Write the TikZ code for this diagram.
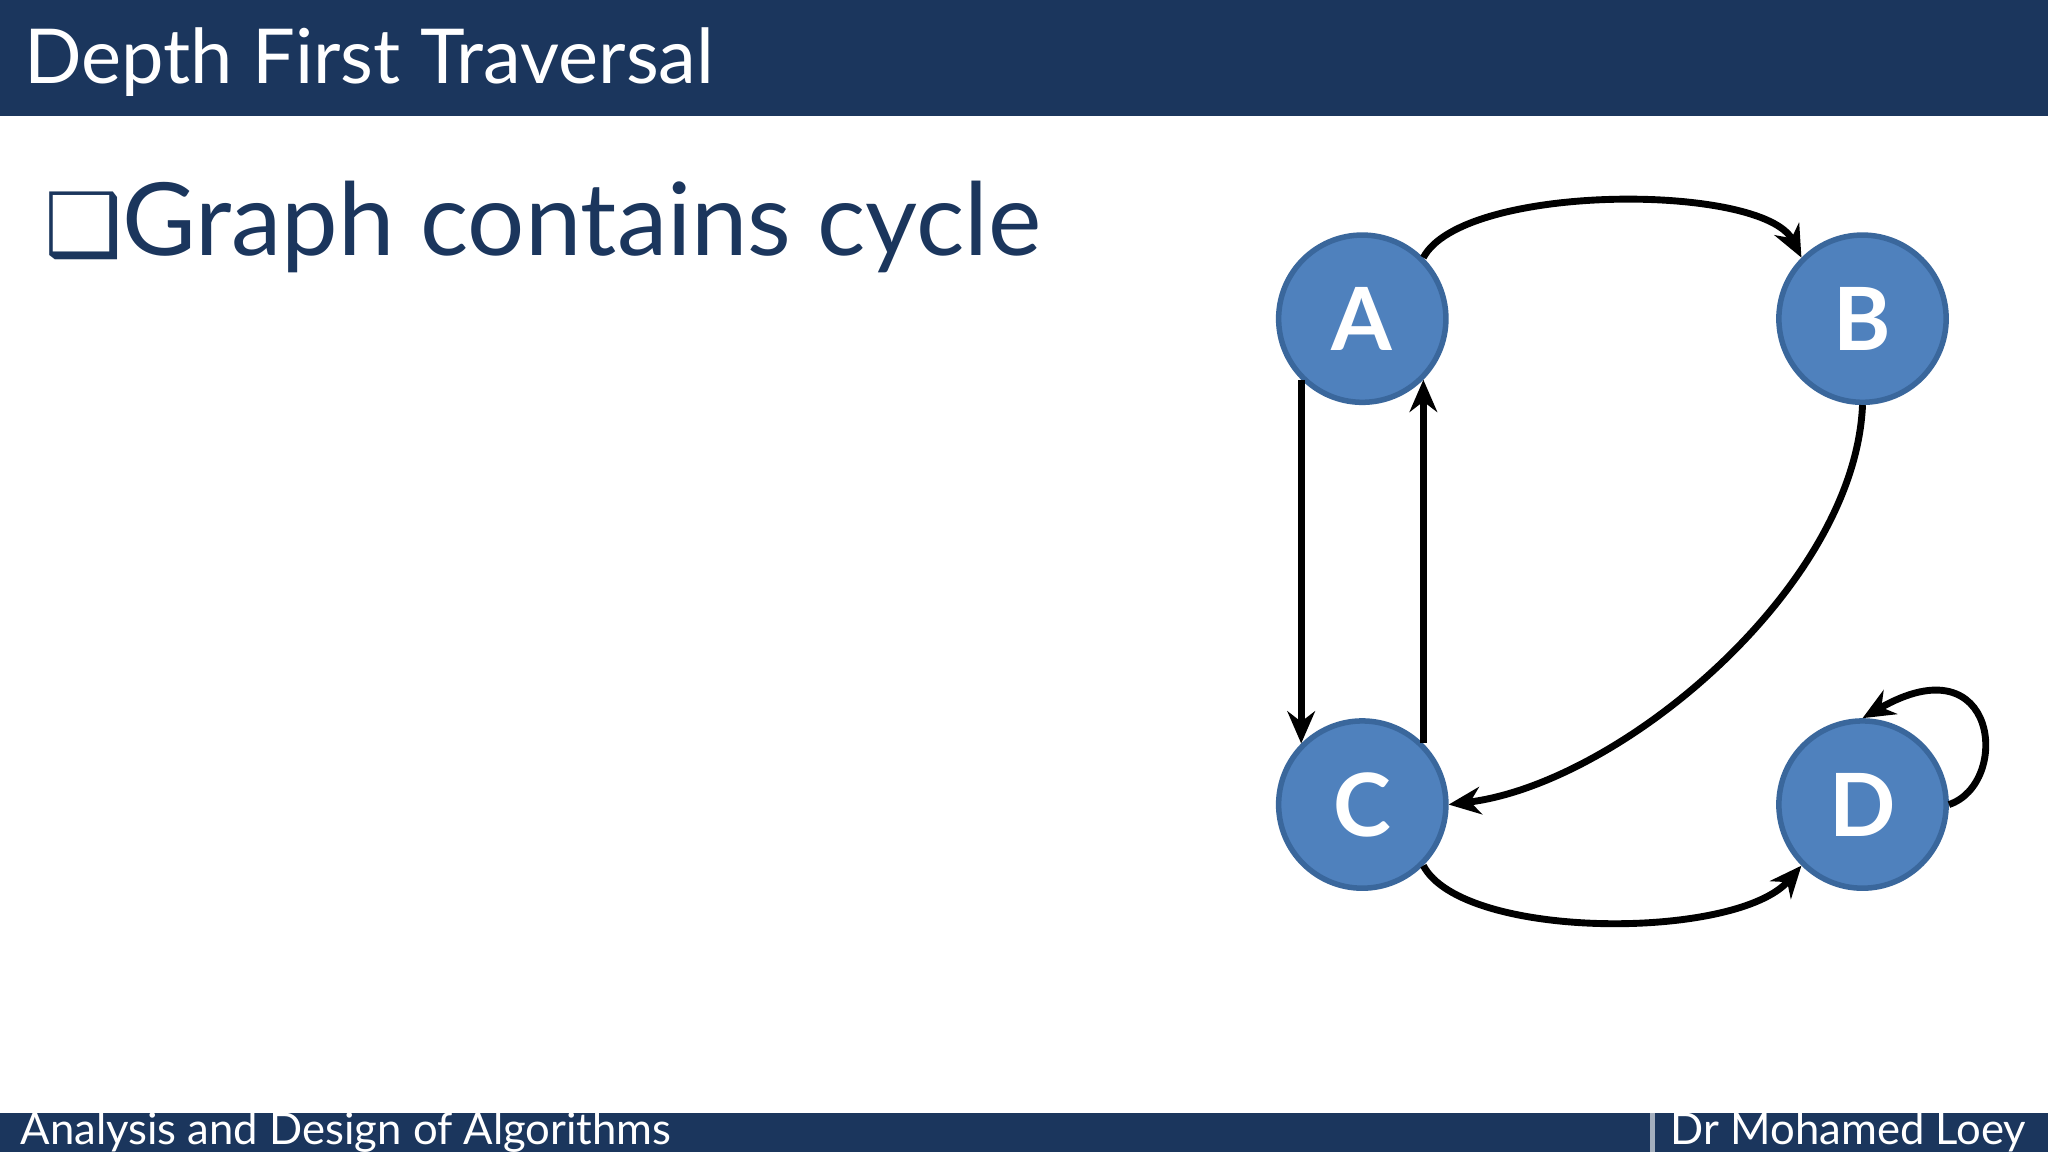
\documentclass[tikz,border=0pt]{standalone}
\usepackage{fontspec}
\setmainfont{Lato}
\newfontfamily\symfont{DejaVu Sans}
\usetikzlibrary{arrows.meta}
\definecolor{navy}{HTML}{1B365D}
\definecolor{nodeblue}{HTML}{4F81BD}
\definecolor{nodeedge}{HTML}{3A679C}
\tikzset{
	vertex/.style = {circle, minimum size=1.28cm, inner sep=0pt, fill=nodeblue, draw=nodeedge, line width=1.2pt, text=white, font=\fontsize{19}{19}\selectfont\bfseries},
	edge/.style   = {line width=1.5pt, -{Stealth[length=7pt,width=6pt]}}
}
\begin{document}
\begin{tikzpicture}[x=0.01cm, y=-0.01cm]
	
	% Background and bars
	\useasboundingbox (0,0) rectangle (1568,882);
	\fill[white] (0,0) rectangle (1568,882);
	\fill[navy] (0,0) rectangle (1568,89);
	\fill[navy] (0,852) rectangle (1568,882);
	\draw[white!60!navy, line width=1pt] (1265,852) -- (1265,882);
	
	% Texts
	\node[anchor=base west, text=white, font=\fontsize{16.5}{16.5}\selectfont, inner sep=0pt] (title) at (18,64) {Depth First Traversal};
	\node[anchor=base west, text=navy, font=\fontsize{22}{22}\selectfont, inner sep=0pt] (bullet) at (33,196) {{\symfont\fontsize{19}{19}\selectfont ❑}Graph contains cycle};
	\node[anchor=base west, text=white, font=\fontsize{9.5}{9.5}\selectfont, inner sep=0pt] (course) at (15,876) {Analysis and Design of Algorithms};
	\node[anchor=base east, text=white, font=\fontsize{9.5}{9.5}\selectfont, inner sep=0pt] (author) at (1552,876) {Dr Mohamed Loey};
	
	% Vertices
	\node[vertex] (A) at (1043,244) {A};
	\node[vertex] (B) at (1426,244) {B};
	\node[vertex] (C) at (1043,616) {C};
	\node[vertex] (D) at (1426,616) {D};
	
	% Edges
	\draw[edge] (A.45) .. controls (1120,140) and (1350,140) .. (B.135);
	\draw[edge] (A.-135) -- (C.135);
	\draw[edge] (C.45) -- (A.-45);
	\draw[edge] (B.-90) .. controls (1420,450) and (1240,600) .. (C.0);
	\draw[edge] (C.-45) .. controls (1120,720) and (1330,720) .. (D.-135);
	\draw[edge] (D.0) .. controls (1540,600) and (1530,490) .. (D.90);
	
\end{tikzpicture}
\end{document}
